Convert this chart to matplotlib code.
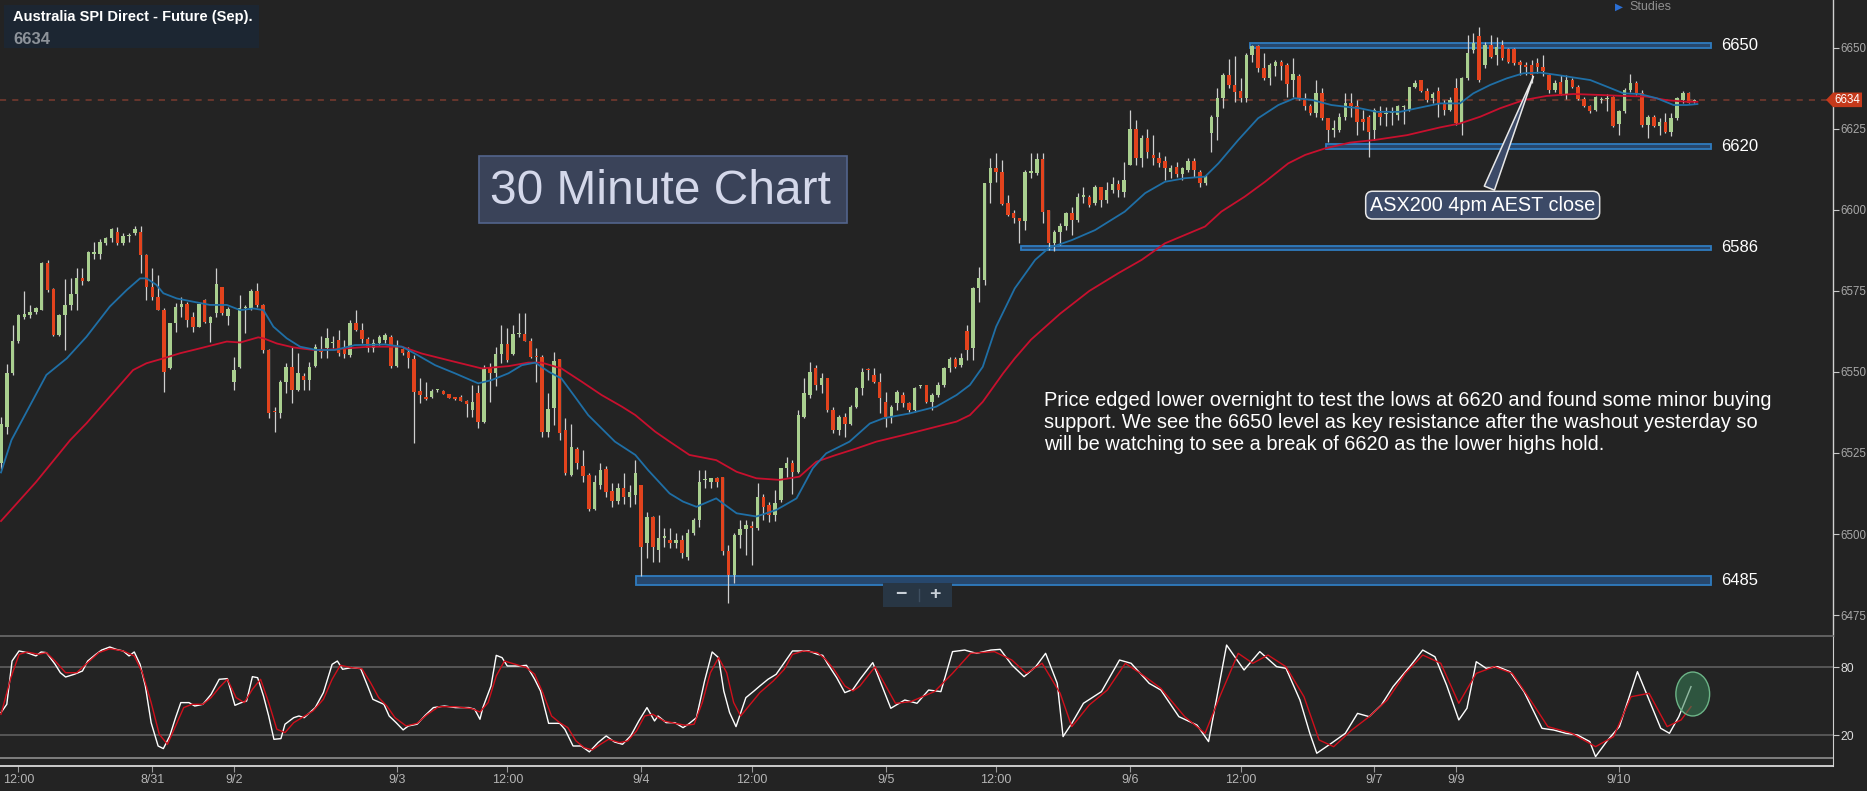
import numpy as np
import matplotlib
matplotlib.use("Agg")
import matplotlib.pyplot as plt
from matplotlib.patches import Rectangle, Ellipse, Polygon
import matplotlib.transforms as mtransforms

plt.rcParams['font.family'] = ['Liberation Sans', 'DejaVu Sans']
NARROW = ['Liberation Sans Narrow', 'Liberation Sans', 'DejaVu Sans']

# ---------------- data (30 minute candles, index 0..291) ----------------
opens = [
    6522, 6533, 6549.6, 6559.6, 6567, 6567.6, 6568.6, 6569, 6583.5, 6575.6,
    6561.4, 6567.6, 6570.7, 6574, 6579, 6578, 6586.4, 6586.5, 6589.7, 6591.3,
    6593.3, 6589.7, 6592, 6592.8, 6593.3, 6586.1, 6576.1, 6573, 6569.1, 6551.1,
    6565.2, 6570.2, 6571, 6567, 6564, 6572.2, 6565.2, 6568.1, 6576.1, 6567.3,
    6547, 6551.6, 6569.6, 6569.6, 6575, 6570.7, 6556.8, 6537.8, 6537.2, 6547,
    6551.6, 6544.4, 6548.9, 6547.5, 6551.8, 6557, 6557.3, 6558.8, 6560, 6557,
    6555.2, 6565.2, 6563.1, 6560.1, 6557.3, 6559, 6559.9, 6560.9, 6551.8, 6557,
    6556.3, 6553.9, 6544.2, 6542, 6542.2, 6544.4, 6544.2, 6543.1, 6541.9, 6542.2,
    6541.1, 6538.2, 6543.4, 6534.6, 6551.1, 6549.6, 6555.5, 6558.6, 6555.7, 6561.6,
    6561.7, 6559.6, 6554.7, 6554.5, 6531.6, 6538.8, 6553.9, 6532.1, 6518.2, 6526.1,
    6521, 6518.2, 6507.6, 6515.1, 6520.2, 6513.2, 6510.2, 6514.1, 6511.5, 6512,
    6515.1, 6497.1, 6505.1, 6495, 6498.9, 6498.1, 6497.1, 6498.1, 6493, 6500.2,
    6504.3, 6516.6, 6516.1, 6517.2, 6517.5, 6494.9, 6487.4, 6499.7, 6501.5, 6502.5,
    6501.8, 6511.5, 6509, 6506, 6510.5, 6520.3, 6521.8, 6519.2, 6536.2, 6542.9,
    6551.1, 6546, 6548, 6538.3, 6532.1, 6536.2, 6534, 6539.3, 6545, 6550.6,
    6549.1, 6547, 6540.8, 6536.2, 6540.3, 6542.9, 6540.3, 6538.3, 6545.7, 6546,
    6540.8, 6542.9, 6546, 6551.1, 6553.9, 6552.1, 6562.8, 6557.3, 6575.8, 6578.4,
    6608.2, 6612.9, 6611.8, 6602.1, 6599, 6597.4, 6596.7, 6611.5, 6611.3, 6615.7,
    6600, 6589.7, 6593.3, 6595.1, 6599.2, 6597, 6604.1, 6604.1, 6602.1, 6607,
    6603.1, 6606.2, 6608, 6605.7, 6613.9, 6624.9, 6615.9, 6622.1, 6617, 6616,
    6615.1, 6611.8, 6613.2, 6611.1, 6612.4, 6615.2, 6611.8, 6608.2, 6623.7, 6628.6,
    6634.5, 6641.7, 6638.6, 6636.7, 6634.5, 6647.8, 6650.6, 6643.7, 6640.6, 6644.4,
    6645.6, 6644.8, 6640.1, 6641.2, 6634.5, 6632.1, 6629.8, 6636, 6628.3, 6624.7,
    6624.7, 6628.8, 6633.1, 6632.1, 6628, 6628.8, 6624.7, 6630, 6629.6, 6629.8,
    6629.3, 6631.7, 6630.9, 6638.1, 6640.1, 6636.8, 6634.7, 6636.8, 6632.9, 6630.9,
    6637.6, 6626.8, 6640.6, 6649.4, 6653.7, 6644.7, 6650.9, 6647.8, 6650.9, 6649.6,
    6649.6, 6645.8, 6644.7, 6644.7, 6645.3, 6644, 6641.7, 6637, 6639.6, 6635.8,
    6640.1, 6638.1, 6634.2, 6632.1, 6630.9, 6634, 6634.2, 6635, 6626.4, 6630.4,
    6637, 6639.1, 6636.2, 6626.2, 6628.8, 6626, 6627.3, 6624.2, 6628.3, 6634,
    6636.2, 6633.2]

highs = [
    6536, 6552.5, 6564.5, 6568, 6575, 6570.7, 6570.2, 6584, 6584.6, 6576,
    6568, 6578.7, 6579, 6582, 6582, 6587.2, 6590.2, 6591, 6591.8, 6594.3,
    6594.9, 6592.8, 6593, 6595, 6595, 6586.5, 6582, 6580, 6569.6, 6565,
    6571.2, 6573.3, 6571.7, 6568.6, 6571, 6572.4, 6567.3, 6582, 6576.3, 6570.2,
    6554.7, 6573.8, 6570.7, 6575.5, 6577.4, 6571, 6557, 6539.3, 6547.5, 6552.7,
    6557.8, 6555.8, 6549.6, 6553.2, 6558.5, 6561, 6563.5, 6561, 6563, 6559.9,
    6566, 6569.1, 6565, 6560.9, 6560.1, 6561.4, 6562.1, 6561.4, 6559.9, 6557.3,
    6557.8, 6555.2, 6548, 6547, 6544.6, 6544.9, 6544.4, 6543.2, 6542.1, 6542.9,
    6541.3, 6546, 6546, 6552.1, 6552.7, 6557.6, 6564.5, 6563.5, 6564.5, 6568.3,
    6568.3, 6560.4, 6557.3, 6555.2, 6543.4, 6556.3, 6553.9, 6535.7, 6534.1, 6526.9,
    6525.9, 6518.7, 6518.2, 6522, 6521, 6515.8, 6515.8, 6518.7, 6515.1, 6522.8,
    6515.1, 6506.9, 6505.5, 6505.8, 6501.7, 6501.7, 6500.2, 6499.7, 6501.5, 6504.8,
    6519.7, 6519.7, 6517.2, 6517.7, 6517.7, 6496.6, 6500.2, 6504.3, 6504.3, 6504,
    6515.6, 6512.5, 6510, 6513.5, 6520.3, 6523.9, 6522.8, 6538.3, 6548, 6553.2,
    6552.2, 6549.6, 6548, 6539.3, 6536.7, 6537.2, 6539.8, 6545.5, 6551.1, 6551.1,
    6551.1, 6549.6, 6543.9, 6539.8, 6544.4, 6543.9, 6540.8, 6545.5, 6546, 6546,
    6543.4, 6547, 6551.6, 6554.7, 6554.7, 6555.8, 6564.5, 6576.3, 6582.5, 6608.2,
    6615.9, 6617.5, 6615.4, 6604.6, 6600, 6597.4, 6612.4, 6617.5, 6617.5, 6617.5,
    6600, 6593.8, 6595.9, 6599.5, 6601, 6605.2, 6607.2, 6604.6, 6607.7, 6607.2,
    6608.7, 6610.3, 6609.3, 6614.9, 6630.9, 6627.8, 6623.2, 6624.9, 6623.2, 6618,
    6616.7, 6613.9, 6614.9, 6613.4, 6615.9, 6615.9, 6612.4, 6610.8, 6629.3, 6637.6,
    6642.2, 6646.5, 6647.5, 6640.6, 6648.4, 6650.9, 6650.9, 6648.4, 6645.5, 6646.3,
    6646.3, 6645.5, 6646.8, 6642, 6636, 6632.7, 6640.1, 6637.6, 6628.3, 6627.8,
    6629.8, 6636, 6636, 6633.9, 6630.9, 6629.3, 6631.4, 6632.1, 6631.9, 6631.9,
    6632.4, 6632.4, 6638.1, 6640.1, 6640.2, 6637.5, 6636.3, 6638.1, 6633.9, 6634.9,
    6640.6, 6641.1, 6654, 6654.5, 6656.6, 6651.9, 6654, 6653.5, 6652.5, 6649.9,
    6649.9, 6646.3, 6645.8, 6646.3, 6646.8, 6647.8, 6642, 6640.1, 6641.7, 6641.7,
    6640.6, 6638.6, 6635, 6632.4, 6635.2, 6635, 6635.8, 6635.2, 6630.9, 6637.6,
    6641.9, 6639.9, 6637, 6629.3, 6629.3, 6628.3, 6629.8, 6630, 6635, 6636.8,
    6636.5, 6634.2]

lows = [
    6520, 6531, 6549, 6559, 6566.5, 6566.6, 6568, 6569, 6574.8, 6561,
    6561, 6556.8, 6569, 6569, 6577, 6578, 6585, 6585, 6589.2, 6590.2,
    6589.2, 6589.2, 6590.2, 6592.3, 6580.5, 6572.2, 6572.2, 6569, 6543.9, 6551,
    6562.4, 6567, 6564, 6562.4, 6564, 6565, 6559.4, 6567.1, 6567.6, 6564.5,
    6544.4, 6551.1, 6562, 6569, 6570.2, 6555.8, 6535.7, 6531.6, 6535.7, 6543.4,
    6540.3, 6544, 6544.4, 6544.4, 6551.5, 6554.2, 6554.2, 6557.3, 6555, 6554.2,
    6554.7, 6562.7, 6559, 6556.3, 6556.3, 6558.3, 6559, 6551.1, 6551.6, 6555.2,
    6551.1, 6528, 6540.3, 6541.3, 6541.9, 6543.9, 6543.1, 6542, 6541.5, 6541,
    6536.2, 6536.2, 6532.6, 6534.3, 6540.8, 6545.7, 6552.7, 6553.2, 6555.2, 6560.7,
    6559.6, 6554.2, 6547, 6530, 6529.8, 6533.6, 6529, 6518.2, 6517.9, 6520.2,
    6516.1, 6507.2, 6507.4, 6513.8, 6511.5, 6508.2, 6509.4, 6509.4, 6508.4, 6509.2,
    6487, 6492.5, 6491.4, 6491.4, 6496.1, 6495.6, 6495.6, 6492.5, 6492, 6499.7,
    6502.3, 6514.1, 6514.1, 6514.6, 6493.5, 6478.6, 6484.8, 6495.6, 6493.5, 6490.5,
    6501.2, 6504.3, 6503.8, 6504, 6510, 6517.7, 6512.5, 6518.7, 6535.7, 6541.9,
    6544.4, 6543.4, 6537.8, 6531.1, 6530.6, 6530, 6533.6, 6539, 6542.9, 6547.5,
    6546.5, 6537.2, 6533.1, 6534.2, 6538.3, 6539.3, 6537.8, 6537.8, 6545, 6540.3,
    6538.3, 6542.4, 6545.5, 6550.1, 6551.1, 6551.6, 6553.7, 6553.7, 6571.7, 6576.9,
    6602.1, 6608.7, 6601.5, 6598, 6595.9, 6589.7, 6593.8, 6609.8, 6610.8, 6595.9,
    6587.7, 6587.2, 6589.2, 6593.8, 6592.3, 6596.4, 6602.1, 6601, 6601.5, 6601,
    6602.1, 6605.2, 6604.1, 6604.1, 6613.9, 6613.9, 6613.4, 6615.9, 6613.9, 6613.4,
    6609.3, 6609.8, 6610.3, 6609.3, 6611.8, 6610.3, 6607.2, 6607.7, 6618, 6621.6,
    6631.4, 6637.6, 6633.4, 6633.4, 6633.4, 6645.8, 6642.7, 6640.1, 6638.6, 6641.2,
    6640.1, 6635, 6635, 6634, 6630.9, 6629.3, 6628.8, 6627.8, 6621.1, 6622.6,
    6624.2, 6627.8, 6628.8, 6623.1, 6624.7, 6616.5, 6621.6, 6626.2, 6625.9, 6626.2,
    6627.8, 6626.5, 6630.7, 6637.6, 6636.5, 6633.4, 6632.9, 6628.8, 6629.3, 6630.4,
    6626.2, 6623.1, 6640.1, 6648.4, 6639.6, 6643.7, 6646.8, 6644.7, 6646.3, 6645.3,
    6644.8, 6641.7, 6641.7, 6639.1, 6642.2, 6641.2, 6636, 6636.5, 6635.5, 6634.2,
    6637.6, 6634, 6631.9, 6629.8, 6630.7, 6632.9, 6630.4, 6625.7, 6623.1, 6629.8,
    6636.5, 6635.5, 6625.7, 6622.1, 6625.7, 6623.1, 6623.7, 6622.9, 6627.8, 6633,
    6632.9, 6633]

closes = [
    6534, 6549.6, 6559.6, 6567.5, 6568, 6568.6, 6569.6, 6583.5, 6575.3, 6561.4,
    6567.6, 6570.7, 6574, 6579, 6578.2, 6587, 6586.9, 6590.2, 6591.3, 6594,
    6589.7, 6592, 6592.1, 6594, 6586.1, 6576.1, 6573, 6569.1, 6550.1, 6565,
    6570.2, 6571, 6566, 6564, 6571, 6565.5, 6566.9, 6577.2, 6568.1, 6569.3,
    6550.6, 6569.6, 6569.7, 6575, 6570.7, 6556.8, 6537.2, 6537.7, 6547, 6551.6,
    6544.4, 6549.6, 6547.5, 6551.6, 6557.8, 6556.3, 6560.4, 6558.9, 6556, 6555.7,
    6565.2, 6563.1, 6560.1, 6557.3, 6559, 6560.9, 6561.4, 6551.8, 6558, 6555.9,
    6554.2, 6543.9, 6542.9, 6541.8, 6544.2, 6544.5, 6543.2, 6542.1, 6541.8, 6541.1,
    6540.1, 6540.8, 6534.6, 6551.1, 6549.6, 6555.5, 6558.6, 6553.7, 6561.7, 6561.7,
    6559.6, 6554.5, 6554.6, 6531.6, 6538.5, 6553.5, 6531.3, 6518.7, 6526.9, 6521.8,
    6517.9, 6507.6, 6516.1, 6519.9, 6513, 6510.2, 6514.1, 6511.5, 6513, 6518.9,
    6496.1, 6505.1, 6496.1, 6498.9, 6499, 6497.1, 6498.3, 6494, 6500.2, 6504.3,
    6516.1, 6516.7, 6517.2, 6516.1, 6494.6, 6487.4, 6499.7, 6501.5, 6502.8, 6502,
    6511.5, 6508.4, 6506, 6509.5, 6520.3, 6521.8, 6519.2, 6536.7, 6543.4, 6550.1,
    6546, 6548.3, 6538.3, 6532.1, 6536.2, 6534, 6539.3, 6545, 6550.1, 6550.5,
    6547, 6541.9, 6536.2, 6539.3, 6543.9, 6540.3, 6538.3, 6545, 6545.8, 6540.8,
    6542.9, 6546, 6551.1, 6553.9, 6551.6, 6554.2, 6556.8, 6575.8, 6578.9, 6608.2,
    6612.9, 6611.8, 6601.8, 6598.5, 6597.4, 6596.7, 6611.8, 6611.6, 6615.7, 6599.5,
    6589.7, 6593.3, 6595.1, 6599.2, 6597, 6604.1, 6604.2, 6601.5, 6607, 6603,
    6606.2, 6608, 6606.2, 6609.3, 6624.9, 6615.9, 6622.1, 6618, 6616, 6614.4,
    6612.9, 6612.9, 6611.1, 6612.9, 6615.2, 6612.4, 6608.2, 6610.3, 6628.6, 6634.5,
    6641.7, 6638.6, 6636.5, 6634.5, 6647.8, 6650.6, 6643.7, 6640.6, 6644.8, 6645.6,
    6644.4, 6638.9, 6641.9, 6634.5, 6632.1, 6629.8, 6636, 6628.3, 6624.7, 6625.2,
    6628.8, 6633.1, 6632.1, 6627.3, 6627.3, 6624.2, 6630.9, 6628.8, 6629.8, 6629.9,
    6632.1, 6631.9, 6638.1, 6639.3, 6636.8, 6634, 6635.8, 6632.9, 6630.9, 6633.9,
    6626.8, 6640.6, 6648.4, 6651.4, 6640.1, 6650.9, 6647.3, 6650.4, 6646.8, 6645.8,
    6645.3, 6644.7, 6644.2, 6641.7, 6644, 6643, 6637, 6639.3, 6635.8, 6640.1,
    6638.1, 6634.2, 6632.1, 6630.4, 6635, 6634.2, 6634.5, 6625.9, 6630.4, 6637,
    6639.1, 6636, 6626.2, 6628.8, 6626, 6627.3, 6624.2, 6628.3, 6634.5, 6636.2,
    6633, 6634]

# moving averages: (candle index, price)
ma_fast = [(0, 6519), (1.8, 6529), (5.8, 6542.4), (7.8, 6549.1), (11.3, 6554.2), (14.7, 6560.9),
           (18.7, 6570.2), (21.6, 6575.3), (23.9, 6578.9), (25, 6578.9), (26.7, 6576.9), (27.9, 6574.3),
           (30.2, 6572.7), (33, 6571.7), (35.9, 6570.7), (38.8, 6570.7), (41.1, 6569.1), (43.4, 6569.6),
           (45.1, 6569.1), (46.8, 6564), (49.1, 6560.4), (51.4, 6557.8), (54.2, 6556.8), (57.4, 6556.8),
           (60.8, 6558.3), (66, 6558.5), (68.9, 6557.8), (71.1, 6555.7), (74.6, 6552.1), (78, 6549.6),
           (82, 6546.5), (84.3, 6547.5), (87.2, 6549.6), (89.5, 6552.1), (91.8, 6552.9), (94.1, 6550.1),
           (96.3, 6548), (98.6, 6542.4), (100.9, 6536.7), (103.2, 6532.6), (105.5, 6528.5), (109, 6524.4),
           (111.2, 6519.7), (114.9, 6512.5), (117.2, 6510), (119.5, 6508.4), (122.9, 6511), (124, 6509.5),
           (126.4, 6506.4), (129.8, 6505.4), (133.2, 6507.4), (136.7, 6511), (139.5, 6520.3), (141.8, 6524.9),
           (145.8, 6528.5), (149.3, 6534.1), (151.6, 6535.7), (156.1, 6537.2), (160.7, 6539.3), (164.2, 6542.9),
           (166.5, 6546), (168.7, 6551.6), (171, 6564), (174.2, 6575.8), (177.7, 6584.6), (180, 6588.2),
           (184, 6590.7), (188, 6593.8), (193.1, 6599.5), (196.6, 6605.2), (200, 6608.7), (203.4, 6609.8),
           (206.9, 6610.3), (209.2, 6614.4), (212.6, 6621.6), (216, 6628.3), (219.5, 6632.4), (222.3, 6634.5),
           (225.2, 6634), (228.6, 6632.4), (231.8, 6631.7), (233.5, 6631.4), (236.4, 6630.3), (240.4, 6630.3),
           (243.3, 6631.4), (247.3, 6632.9), (250.7, 6632.9), (253, 6636), (255.9, 6638.6), (258.7, 6640.6),
           (261.6, 6642.2), (264.5, 6642.4), (267.3, 6641.7), (270.2, 6640.9), (273.1, 6640.1), (275.9, 6638.1),
           (278.8, 6636), (281.6, 6635.8), (284.5, 6634.5), (287.4, 6632.4), (289.7, 6632.4), (291.5, 6632.7)]

ma_slow = [(0, 6504), (6, 6516), (11.9, 6529), (14.7, 6534.2), (18.7, 6542.4), (22.7, 6550.6), (25, 6552.7),
           (27.9, 6554.2), (30.8, 6555.8), (34.2, 6557.3), (38.8, 6559.4), (41.1, 6559.1), (44.2, 6560.7),
           (45.1, 6560.4), (47.4, 6558.8), (50.2, 6557.6), (53.7, 6556.8), (57.4, 6557), (63.1, 6557.8),
           (68.9, 6557.8), (72.3, 6555.7), (77.4, 6553.4), (82.6, 6551.1), (87.2, 6551.8), (90.6, 6552.9),
           (92.9, 6552.9), (96.3, 6551.1), (99.8, 6547), (103.2, 6542.9), (106.7, 6539.3), (109, 6536.7),
           (112.4, 6531.6), (114.9, 6528.5), (118.3, 6524.4), (122.9, 6522.8), (126.4, 6519.2), (129.8, 6517.2),
           (133.8, 6516.7), (137.2, 6517.7), (140.1, 6522.3), (143.5, 6524.4), (147, 6526.4), (150.4, 6528.5),
           (155, 6530.5), (159.6, 6532.6), (164.2, 6534.7), (166.5, 6536.7), (168.7, 6540.8), (172.2, 6549.6),
           (174.2, 6554.2), (177, 6560), (182, 6568), (187, 6575), (192, 6580.5), (196, 6584.6), (200, 6589.7),
           (206.9, 6594.9), (209.7, 6599.5), (213.7, 6604.1), (217.2, 6608.7), (221.2, 6614.4), (224.1, 6617),
           (227.5, 6619), (231.8, 6620.8), (236, 6621.6), (241.6, 6623.1), (247.3, 6625.5), (250.7, 6626.7),
           (254.2, 6628.8), (257.6, 6631.4), (261.6, 6633.9), (265.6, 6635.2), (270.2, 6635.8), (274.8, 6635.5),
           (278.8, 6635.2), (282.8, 6635), (286.2, 6633.9), (289.7, 6633.4), (291.5, 6633.4)]

# stochastic oscillator: (candle index, value)
stoch_k = [(0, 40.1), (1, 47.4), (1.9, 85.6), (3.1, 94.5), (4.5, 93), (6, 90.1), (6.9, 93.6), (7.8, 93),
           (9.3, 82.7), (10.2, 75.3), (11.1, 71.5), (12.6, 73.9), (14, 76.8), (14.9, 85.6), (16.3, 91.5),
           (17.3, 95.3), (18.7, 98), (19.8, 95.9), (21, 94.5), (22, 90.1), (22.9, 93.6), (23.9, 82.7),
           (24.8, 63.6), (25.8, 31.2), (27, 10.6), (27.9, 8.3), (29, 19.5), (30, 35.6), (30.9, 48.9),
           (32.3, 48.9), (33.3, 45.9), (34.7, 47.4), (36.1, 56.2), (37.5, 69.5), (38.9, 70.1), (40.2, 46.5),
           (41.3, 48.9), (42.2, 50.3), (43.2, 71.8), (44.1, 70.9), (45.1, 54.8), (46, 37.1), (46.9, 16.5),
           (48.1, 17.1), (48.8, 29.8), (50.3, 35.6), (51.2, 37.1), (52.1, 35.6), (54, 44.5), (55.4, 57.7),
           (56.9, 82.7), (57.8, 85.6), (58.7, 78.3), (60.2, 79.8), (61.8, 78.9), (63, 63.6), (63.9, 51.8),
           (65.8, 47.4), (66.7, 37.1), (67.9, 31.2), (69.1, 24.8), (70, 28.3), (71.5, 29.8), (72.9, 37.7),
           (74.3, 44.5), (76.2, 45.9), (78.1, 44.5), (80.4, 44.5), (81.4, 43), (82.3, 34.2), (82.8, 44.5),
           (84.2, 63.6), (85.1, 90.6), (86.1, 88.6), (87, 81.2), (88.9, 81.2), (90.3, 81.8), (91.7, 69.5),
           (92.7, 59.2), (94.1, 30.6), (96, 30.6), (96.9, 25.3), (98.3, 10.6), (99.7, 10.6), (101.1, 5.4),
           (102.6, 13.6), (104, 19.5), (105.4, 14.2), (106.8, 12.1), (108.2, 19.5), (109.6, 32.7), (111, 44.5),
           (112.3, 32.7), (112.9, 37.1), (114.3, 31.2), (115.8, 31.2), (117.2, 26.8), (118.1, 29.8),
           (119.5, 35.6), (120.9, 68), (122.2, 93.6), (123.3, 88.6), (124.2, 59.2), (125.2, 40.1),
           (126.3, 27.7), (128, 53.3), (129.4, 59.2), (130.4, 63.6), (131.8, 69.5), (133.2, 73.9),
           (134.6, 84.2), (136, 94.5), (137.4, 94.5), (138.8, 94.5), (140.3, 91.5), (141.2, 90.6),
           (142.1, 82.7), (143.6, 70.9), (145, 57.7), (146.4, 60.6), (147.6, 69.5),
           (149.8, 84.2), (152.9, 43.9), (155.3, 51.2), (157.4, 48.3), (159.4, 60), (161.5, 58.6),
           (163.5, 93.9), (165.6, 95.3), (167.6, 92.4), (170.1, 95.3), (171.7, 95.9), (173.7, 82.1),
           (175.8, 71.8), (177.8, 80.6), (179.5, 92.4), (181.5, 65.9), (182.5, 18.9), (184, 30.6),
           (186, 48.3), (189.1, 58.6), (192.2, 86.5), (194.2, 83.6), (197.3, 65.9), (199.3, 60),
           (202.4, 36.5), (205.5, 29.1), (207.5, 14.5), (210.6, 99.7), (213.6, 77.7), (216.3, 93.9),
           (219.2, 80.6), (220.8, 79.2), (223.2, 51.2), (224.9, 21.8), (226.1, 4.2), (228.6, 13),
           (231, 21.8), (233.1, 39.4), (235.1, 36.5), (237.2, 46.8), (239.2, 63), (242.3, 82.1),
           (244.3, 95.3), (246.4, 89.4), (248.4, 64.4), (250.5, 33.6), (251.9, 43.9), (253.5, 85),
           (255.2, 79.2), (257.2, 80.6), (259.3, 76.2), (261.7, 58.6), (264.8, 26.2), (266.8, 24.7),
           (268.9, 21.8), (270.9, 20.3), (273, 14.5), (274, 1.2), (276.1, 15.9), (278.1, 27.7),
           (281.2, 76.2), (283.2, 51.2), (285.2, 26.2), (286.7, 21.8), (288.3, 36.5), (290.4, 63)]

stoch_d = [(0, 38.6), (1.7, 70.9), (3.1, 91.5), (4.5, 93.6), (6.4, 91.5), (7.8, 93), (9.3, 85.6), (11.1, 75.3),
           (13, 75.3), (14.9, 84.2), (16.8, 93), (18.7, 96.5), (21, 94.5), (22.9, 90.1), (24.3, 75.3),
           (25.8, 48.9), (27.2, 20.9), (28.6, 12.1), (30, 28.3), (31.4, 44.5), (32.8, 47.4), (34.7, 47.4),
           (36.1, 53.3), (37.5, 62.1), (38.9, 69.5), (40.4, 53.3), (41.8, 48.9), (43.2, 60.6), (44.6, 69.5),
           (46, 48.9), (47.4, 25.4), (48.8, 22.4), (50.3, 31.2), (51.7, 35.6), (53.6, 41.5), (55.4, 51.8),
           (56.9, 69.5), (58.3, 81.8), (60.2, 79.8), (62, 78.9), (63.5, 66.5), (64.9, 53.3), (66.3, 45.9),
           (67.7, 35.6), (69.6, 28.3), (71.5, 30.6), (73.3, 38.6), (75.2, 45.3), (78.1, 45.3), (80.9, 43.6),
           (82.3, 40.6), (83.7, 48.9), (85.1, 72.4), (86.5, 85.6), (88.4, 82.7), (90.3, 79.8), (91.7, 73.9),
           (93.1, 57.7), (94.6, 37.1), (96, 31.2), (97.4, 26.8), (98.8, 15.1), (100.2, 9.2), (101.6, 7.1),
           (103, 12.1), (104.4, 16.5), (106.3, 13.6), (107.7, 15.1), (109.2, 23.9), (110.6, 37.1), (112, 38.6),
           (113.9, 32.7), (115.8, 30.6), (117.6, 28.9), (119.1, 29.8), (120.5, 48.9), (121.9, 75.3),
           (123.3, 88.6), (124.7, 75.3), (125.9, 48.9), (127.1, 37.1), (128.5, 45.9), (130.4, 57.7),
           (132.7, 68), (134.6, 78.3), (136, 91.5), (137.9, 94.5), (140.3, 93), (141.7, 87.1), (143.1, 78.3),
           (145, 63.6), (146.4, 59.2), (147.6, 63.6), (150.2, 80.6), (153.7, 48.3), (156.3, 49.7),
           (160.4, 58.6), (163.5, 74.7), (166.6, 92.4), (170.7, 93.9), (173.7, 86.5), (176.2, 74.7),
           (178.9, 83.6), (182, 57.1), (184, 27.7), (187, 46.8), (190.1, 60), (193.2, 83.6), (196.2, 73.3),
           (199.3, 61.5), (203.4, 36.5), (206.9, 21.8), (209.5, 55), (212.6, 92.4), (215.1, 83.6),
           (217.7, 90.9), (220.8, 80.6), (223.9, 54.1), (226.5, 15.9), (229, 10), (232.1, 24.7), (235.1, 36.5),
           (238.2, 51.2), (241.3, 74.7), (244.3, 90.9), (247.4, 83.6), (250.5, 48.3), (253.5, 74.7),
           (256.6, 80.6), (259.7, 74.7), (262.8, 51.2), (265.8, 27.7), (269.9, 21.8), (274, 10), (277.1, 18.9),
           (280.1, 54.1), (283.2, 57.1), (286.3, 27.7), (288.7, 33.6), (290.4, 45.3)]

# support / resistance zones
level_labels = ['6650', '6620', '6586', '6485']
level_lo = [6649.9, 6618.7, 6587.6, 6484.4]
level_hi = [6651.6, 6620.3, 6589.0, 6487.0]
level_start = [214.6, 227.6, 175.3, 109.2]
level_end = 293.8

last_price = 6634
price_ticks = [6475, 6500, 6525, 6550, 6575, 6600, 6625, 6650]
stoch_ticks = [20, 80]
date_tick_pos = [3, 26, 40, 68, 87, 110, 129, 152, 171, 194, 213, 236, 250, 278]
date_tick_lab = ['12:00', '8/31', '9/2', '9/3', '12:00', '9/4', '12:00', '9/5', '12:00',
                 '9/6', '12:00', '9/7', '9/9', '9/10']

title_text = 'Australia SPI Direct - Future (Sep).'
chart_label = '30 Minute Chart'
callout_text = 'ASX200 4pm AEST close'
callout_point = (263.5, 6642.0)
callout_at = (254.6, 6601.5)
comment = ("Price edged lower overnight to test the lows at 6620 and found some minor buying\n"
           "support. We see the 6650 level as key resistance after the washout yesterday so\n"
           "will be watching to see a break of 6620 as the lower highs hold.")

# ---------------- styling ----------------
BG = '#232323'
UP = '#a9cf8f'
DN = '#e2431d'
WICK = '#cfcfcf'
W, H = 1867, 791

fig = plt.figure(figsize=(W / 100, H / 100), dpi=100, facecolor=BG)
ax = fig.add_axes([0, (H - 636) / H, 1833 / W, 636 / H], facecolor=BG)
ax2 = fig.add_axes([0, (H - 766) / H, 1833 / W, 130 / H], facecolor=BG)

XLIM = (-0.17, 314.8)
for a in (ax, ax2):
    a.set_xlim(*XLIM)
    for s in ('left', 'top', 'bottom', 'right'):
        a.spines[s].set_visible(False)
ax.set_ylim(6468.52, 6664.81)
ax2.set_ylim(-7.06, 107.7)

o = np.array(opens, float)
h = np.array(highs, float)
l = np.array(lows, float)
c = np.array(closes, float)
idx = np.arange(len(c))
h = np.maximum(h, np.maximum(o, c))
l = np.minimum(l, np.minimum(o, c))
up = c >= o
body_lo = np.minimum(o, c)
body_h = np.maximum(np.abs(c - o), 0.4)

# level zones
for lab, lo, hi, st in zip(level_labels, level_lo, level_hi, level_start):
    ax.add_patch(Rectangle((st, lo), level_end - st, hi - lo, facecolor=(0.16, 0.33, 0.52, 0.75),
                           edgecolor='#2f7cc0', lw=1.3, zorder=1))
    ax.text(level_end + 1.7, (lo + hi) / 2, lab, color='white', fontsize=12, family=NARROW,
            va='center', ha='left', zorder=6)

# current price dashed line
ax.axhline(last_price, color='#7a3b30', lw=1.1, ls=(0, (4, 4)), zorder=1)

# candles
ax.vlines(idx, l, h, color=WICK, lw=0.9, zorder=2)
ax.bar(idx[up], body_h[up], bottom=body_lo[up], width=0.6, color=UP, lw=0, zorder=3)
ax.bar(idx[~up], body_h[~up], bottom=body_lo[~up], width=0.6, color=DN, lw=0, zorder=3)

# moving averages
fx, fy = zip(*ma_fast)
sx, sy = zip(*ma_slow)
ax.plot(sx, sy, color='#c8102e', lw=1.3, zorder=4)
ax.plot(fx, fy, color='#1f6fa6', lw=1.3, zorder=4)

# right axis
ax.yaxis.tick_right()
ax.set_yticks(price_ticks)
ax.set_yticklabels([str(t) for t in price_ticks])
ax.tick_params(axis='y', colors='#c8c8c8', labelcolor='#a8a8a8', length=4, width=0.8,
               pad=1.5, labelsize=8.3)
ax.spines['right'].set_visible(True)
ax.spines['right'].set_color('#cfcfcf')
ax.spines['right'].set_linewidth(1)
ax.set_xticks([])

# price tag
tr = mtransforms.blended_transform_factory(fig.transFigure, ax.transData)
hh = 2.25
ax.add_patch(Polygon([(1826 / W, last_price), (1833 / W, last_price + hh), (1862 / W, last_price + hh),
                      (1862 / W, last_price - hh), (1833 / W, last_price - hh)], closed=True,
                     transform=tr, facecolor='#c5391b', edgecolor='none', clip_on=False, zorder=10))
ax.text(1847 / W, last_price, str(last_price), transform=tr, color='white', fontsize=8.3,
        ha='center', va='center', zorder=11, clip_on=False)

# 30 minute chart label
ax.add_patch(Rectangle((82.1, 6596.0), 63.3, 20.7, facecolor='#3a4359', edgecolor='#53648c',
                       lw=1.2, zorder=7))
ax.text(113.4, 6601.9, chart_label, color='#d4d8ea', fontsize=34.5, ha='center', va='baseline',
        zorder=8)

# commentary
ax.text(179.2, 6544.0, comment, color='white', fontsize=14.4, ha='left', va='top',
        linespacing=1.18, zorder=8)

# callout
ax.annotate(callout_text, xy=callout_point, xytext=callout_at, ha='center', va='center',
            color='white', fontsize=14.3, zorder=9,
            bbox=dict(boxstyle='round,pad=0.22,rounding_size=0.35', facecolor='#3c4a67',
                      edgecolor='#e8e8e8', lw=1.1),
            arrowprops=dict(arrowstyle='wedge,tail_width=0.55,shrink_factor=0.5',
                            facecolor='#3c4a67', edgecolor='#e8e8e8', lw=1.1))

# stochastic panel
for v, col in ((20, '#5f5f5f'), (80, '#5f5f5f'), (0, '#8e8e8e')):
    ax2.axhline(v, color=col, lw=1.2, zorder=1)
kx, ky = zip(*stoch_k)
dx, dy = zip(*stoch_d)
ax2.plot(dx, dy, color='#d0101c', lw=1.0, zorder=3)
ax2.plot(kx, ky, color='white', lw=1.0, zorder=2)
ax2.add_patch(Ellipse((290.7, 56.5), 5.8, 38.8, facecolor=(0.22, 0.5, 0.34, 0.55),
                      edgecolor='#6cb487', lw=1.0, zorder=4))

ax2.yaxis.tick_right()
ax2.set_yticks(stoch_ticks)
ax2.set_yticklabels([str(t) for t in stoch_ticks])
ax2.tick_params(axis='y', colors='#c8c8c8', labelcolor='#dcdcdc', length=4, width=0.8,
                pad=1.5, labelsize=8.8)
ax2.spines['right'].set_visible(True)
ax2.spines['right'].set_color('#cfcfcf')
ax2.spines['top'].set_visible(True)
ax2.spines['top'].set_color('#6c6c6c')
ax2.spines['top'].set_linewidth(1.2)
ax2.spines['bottom'].set_visible(True)
ax2.spines['bottom'].set_color('#d9d9d9')
ax2.spines['bottom'].set_linewidth(1.3)
ax2.set_xticks(date_tick_pos)
ax2.set_xticklabels(date_tick_lab)
ax2.tick_params(axis='x', colors='#9a9a9a', labelcolor='#b5b5b5', length=4, width=0.8,
                pad=2, labelsize=9)
for t in ax2.get_xticklabels():
    t.set_family(NARROW)

# header box
fig.patches.append(Rectangle((4 / W, 1 - 48 / H), 255 / W, 43 / H, transform=fig.transFigure,
                             facecolor='#1c2632', edgecolor='none', zorder=0))
fig.text(13 / W, 1 - 17 / H, title_text, color='white', fontsize=10.5, fontweight='bold',
         family=NARROW, va='center', ha='left')
fig.text(13 / W, 1 - 39 / H, str(last_price), color='#8d939a', fontsize=12, fontweight='bold',
         family=NARROW, va='center', ha='left')

# studies button
fig.text(1615 / W, 1 - 7 / H, '\u25B6', color='#2b6fd4', fontsize=7.5, va='center', ha='left',
         family=['DejaVu Sans'])
fig.text(1629 / W, 1 - 7 / H, 'Studies', color='#8f8f8f', fontsize=9, va='center', ha='left')

# zoom control
fig.patches.append(Rectangle((883 / W, 1 - 607 / H), 69 / W, 24 / H, transform=fig.transFigure,
                             facecolor='#283644', edgecolor='none', zorder=20))
fig.add_artist(plt.Line2D([919 / W, 919 / W], [1 - 601 / H, 1 - 589 / H], transform=fig.transFigure,
                          color='#3e4f60', lw=1, zorder=21))
fig.text(901 / W, 1 - 595 / H, '\u2212', color='#c9d0d8', fontsize=14, fontweight='bold',
         ha='center', va='center', zorder=22)
fig.text(935 / W, 1 - 595 / H, '+', color='#c9d0d8', fontsize=14, fontweight='bold',
         ha='center', va='center', zorder=22)

fig.savefig('out.png', dpi=100, facecolor=BG)
